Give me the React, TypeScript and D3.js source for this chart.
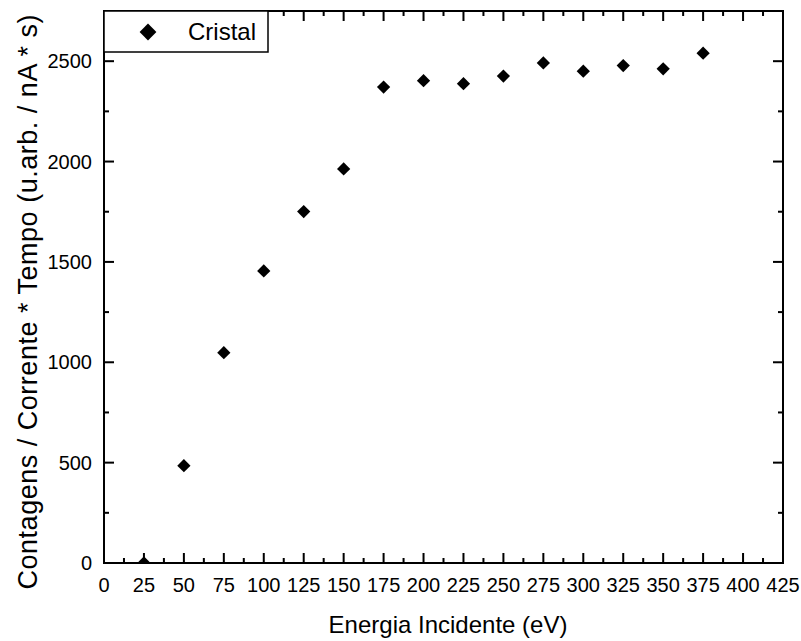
import React, { useRef, useEffect } from "react";
import * as d3 from "d3";

const energia = [25, 50, 75, 100, 125, 150, 175, 200, 225, 250, 275, 300, 325, 350, 375];
const contagens = [0, 485, 1048, 1455, 1751, 1963, 2371, 2403, 2388, 2426, 2491, 2450, 2478, 2462, 2540];
const xTicks = d3.range(0, 426, 25);
const xMinor = d3.range(12.5, 425, 25);
const yTicks = [0, 500, 1000, 1500, 2000, 2500];
const yMinor = [250, 750, 1250, 1750, 2250];
const serieNome = "Cristal";

const W = 801;
const H = 641;
const m = { left: 104, right: 783, top: 11, bottom: 563 };
const fonte = "'Liberation Sans', Arial, sans-serif";

export default function App() {
  const svgRef = useRef<SVGSVGElement>(null);

  useEffect(() => {
    const svg = d3.select(svgRef.current);
    svg.selectAll("*").remove();

    const x = d3.scaleLinear().domain([0, 425]).range([m.left, m.right]);
    const y = d3.scaleLinear().domain([0, 2750]).range([m.bottom, m.top]);

    svg.append("defs").append("clipPath").attr("id", "area")
      .append("rect")
      .attr("x", m.left).attr("y", m.top)
      .attr("width", m.right - m.left).attr("height", m.bottom - m.top);

    const diamond = d3.symbol().type(d3.symbolDiamond2).size(112);

    // pontos
    svg.append("g").attr("clip-path", "url(#area)")
      .selectAll("path")
      .data(energia)
      .join("path")
      .attr("d", diamond)
      .attr("transform", (d, i) => `translate(${x(d)},${y(contagens[i])})`)
      .attr("fill", "#000");

    // ticks para dentro, nos 4 lados
    const tg = svg.append("g").attr("fill", "#000");
    const tw = 2;
    xTicks.concat(xMinor).forEach(v => {
      const len = xTicks.includes(v) ? 10 : 5;
      tg.append("rect").attr("x", x(v) - tw / 2).attr("y", m.bottom - len).attr("width", tw).attr("height", len);
      tg.append("rect").attr("x", x(v) - tw / 2).attr("y", m.top).attr("width", tw).attr("height", len);
    });
    yTicks.concat(yMinor).forEach(v => {
      const len = yTicks.includes(v) ? 10 : 5;
      tg.append("rect").attr("y", y(v) - tw / 2).attr("x", m.left).attr("height", tw).attr("width", len);
      tg.append("rect").attr("y", y(v) - tw / 2).attr("x", m.right - len).attr("height", tw).attr("width", len);
    });

    // rotulos
    svg.append("g").selectAll("text").data(xTicks).join("text")
      .attr("x", d => x(d)).attr("y", 592)
      .attr("text-anchor", "middle")
      .attr("font-family", fonte).attr("font-size", 20)
      .text(d => d3.format("d")(d));
    svg.append("g").selectAll("text").data(yTicks).join("text")
      .attr("x", 92).attr("y", d => y(d) + 7)
      .attr("text-anchor", "end")
      .attr("font-family", fonte).attr("font-size", 20)
      .text(d => d3.format("d")(d));

    // moldura
    svg.append("rect")
      .attr("x", m.left).attr("y", m.top)
      .attr("width", m.right - m.left).attr("height", m.bottom - m.top)
      .attr("fill", "none").attr("stroke", "#000").attr("stroke-width", 2);

    // legenda
    const lg = svg.append("g");
    lg.append("rect")
      .attr("x", m.left).attr("y", m.top)
      .attr("width", 164).attr("height", 41)
      .attr("fill", "#fff").attr("stroke", "#000").attr("stroke-width", 1.5);
    lg.append("path").attr("d", d3.symbol().type(d3.symbolDiamond2).size(180))
      .attr("transform", `translate(148,32)`).attr("fill", "#000");
    lg.append("text").attr("x", 188).attr("y", 40)
      .attr("font-family", fonte).attr("font-size", 24).text(serieNome);

    // titulos
    svg.append("text")
      .attr("x", 448).attr("y", 633)
      .attr("text-anchor", "middle")
      .attr("font-family", fonte).attr("font-size", 24)
      .text("Energia Incidente (eV)");
    svg.append("text")
      .attr("transform", `translate(37,302) rotate(-90)`)
      .attr("text-anchor", "middle")
      .attr("font-family", fonte).attr("font-size", 27)
      .attr("textLength", 575).attr("lengthAdjust", "spacing")
      .text("Contagens / Corrente * Tempo (u.arb. / nA * s)");
  }, []);

  return (
    <svg ref={svgRef} width={W} height={H}
      style={{ position: "absolute", left: 0, top: 0, background: "#fff" }} />
  );
}
